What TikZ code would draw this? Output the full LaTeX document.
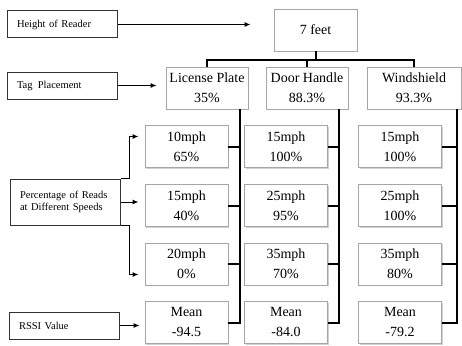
\documentclass[tikz,border=0pt]{standalone}
\usepackage{fontspec}
\setmainfont{Liberation Serif}
\usetikzlibrary{arrows.meta,shadows}
\begin{document}
\begin{tikzpicture}[x=1pt,y=-1pt,
  labelbox/.style={draw=black!80, line width=1pt, rectangle, minimum width=110pt,
    text width=90pt, inner xsep=10pt, inner ysep=0pt, align=left,
    font=\fontsize{10.5}{11.5}\selectfont},
  valbox/.style={draw=black!35, line width=0.8pt, fill=white, rectangle,
    minimum width=83pt, minimum height=42pt, inner sep=0pt, align=center,
    font=\fontsize{14}{20}\selectfont,
    drop shadow={shadow xshift=1.2pt, shadow yshift=-1.2pt, opacity=0.3, fill=black!60}},
  conn/.style={line width=2pt, black, line join=miter},
  arr/.style={line width=1pt, black, -{Latex[length=6pt,width=5pt]}},
]
\useasboundingbox (0,0) rectangle (462,345);

% left labels
\node[labelbox, minimum height=27pt] (hr) at (62,24.5) {Height of Reader};
\node[labelbox, minimum height=27pt] (tp) at (62,85.5) {Tag\, Placement};
\node[labelbox, minimum height=46pt] (pct) at (65,202) {Percentage of Reads\\at Different Speeds\\[3pt]};
\node[labelbox, minimum height=27pt] (rssi) at (64,325.5) {RSSI Value};

% top
\node[valbox] (top) at (315.5,30) {7 feet};
\node[valbox, minimum width=82pt] (lp) at (207,88) {License Plate\\35\%};
\node[valbox, minimum width=82pt] (dh) at (307,88) {Door Handle\\88.3\%};
\node[valbox, minimum width=94pt] (ws) at (414,88) {Windshield\\93.3\%};

% speed boxes
\node[valbox] (s11) at (186.5,146.5) {10mph\\65\%};
\node[valbox] (s12) at (186.5,205.5) {15mph\\40\%};
\node[valbox] (s13) at (186.5,264) {20mph\\0\%};
\node[valbox] (m1) at (186.5,322.5) {Mean\\-94.5};

\node[valbox] (s21) at (286,146.5) {15mph\\100\%};
\node[valbox] (s22) at (286,205.5) {25mph\\95\%};
\node[valbox] (s23) at (286,264) {35mph\\70\%};
\node[valbox] (m2) at (286,322.5) {Mean\\-84.0};

\node[valbox] (s31) at (400,146.5) {15mph\\100\%};
\node[valbox] (s32) at (400,205.5) {25mph\\100\%};
\node[valbox] (s33) at (400,264) {35mph\\80\%};
\node[valbox] (m3) at (400,322.5) {Mean\\-79.2};

% tree
\coordinate (j) at (315.5,60);
\draw[conn] (top.south) -- (j);
\draw[conn] (lp.north) -- (lp.north |- j) -- (ws.north |- j) -- (ws.north);
\draw[conn] (dh.north) -- (dh.north |- j);

% vertical spines
\coordinate (v1) at (240,0);
\coordinate (v2) at (339,0);
\coordinate (v3) at (457,0);
\draw[conn] (lp.south -| v1) -- (m1.east -| v1) -- (m1.east);
\draw[conn] (dh.south -| v2) -- (m2.east -| v2) -- (m2.east);
\draw[conn] (ws.south -| v3) -- (m3.east -| v3) -- (m3.east);
\foreach \c/\v in {1/v1,2/v2,3/v3}{
  \foreach \r in {1,2,3}{
    \draw[conn] (s\c\r.east) -- (s\c\r.east -| \v);
  }
}

% arrows
\draw[arr] (hr.east) -- ++(133,0);
\draw[arr, shorten >=9pt] (tp.east) -- (lp.west |- tp.east);
\draw[arr] (pct.north east) -- ++(9,0) -- ++(0,-42) -- ++(9,0);
\draw[arr] (pct.east) -- ++(18,0);
\draw[arr] (pct.south east) -- ++(9,0) -- ++(0,49) -- ++(9,0);
\draw[arr] (rssi.east) -- ++(20,0);
\end{tikzpicture}
\end{document}
